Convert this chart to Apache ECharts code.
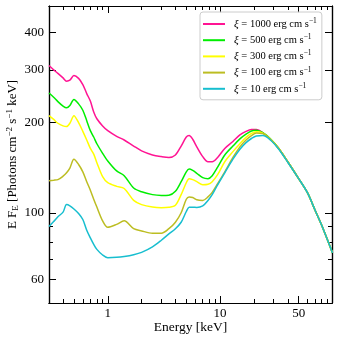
<!DOCTYPE html>
<html><head><meta charset="utf-8">
<script src="https://cdn.jsdelivr.net/npm/echarts@6/dist/echarts.min.js"></script>
<style>html,body{margin:0;padding:0;background:#fff}#c{width:342px;height:342px}</style>
</head><body><div id="c"></div>
<script>
const energy = [0.3,0.33,0.36,0.4,0.43,0.46,0.5,0.55,0.6,0.65,0.7,0.75,0.8,0.9,1.0,1.2,1.4,1.7,2.0,2.5,3.0,3.5,4.0,4.5,5.0,5.3,5.7,6.2,7.0,7.8,8.5,9.5,11,13,15,17,19,21,24,28,33,40,50,60,70,80,100];
const xi1000 = [310,300,292,282,275,277,287,281,268,250,236,217,206,195,188,180,175,167,161,156,154,153,156,167,179,181,176,166,154,148,148,153,164,173,182,187,189.5,189.5,185,176,164.5,148,130,116.5,102,91,73.5];
const xi500  = [251,243,235,227,224,228,239,231,220,203,188,179,170,158,149,138,133,121,117.5,115,114.3,114.5,118,127,137,140,138.5,135.5,131,130,133,142,156,167,176.5,183,187.5,188.5,185,176.5,164.5,148,130,116.5,102,91,73.5];
const xi300  = [211,205,199,195,194,199,211,200,187,175,164,157,147,132,126,122.5,120.5,110,106.5,104.5,104,104.3,106,115,126,130,129,127,124,124.5,127,134,148,160,170,178.5,184,186.5,184.5,176,164.5,148,130,116.5,102,91,73.5];
const xi100  = [128,128.5,129,132.5,136,141,151,145,137,127,119,111,104.5,94,89.5,91.5,94,88.5,87,85.5,85.5,88.5,93,100,111,113,112.5,110.5,110,113,117,125,137,153,166,175,181,184.5,184,176,164.5,148,130,116.5,102,91,73.5];
const xi10   = [90,93.5,97,100.5,106.5,105.5,103,99.5,95,87.5,82.5,78.5,75.5,72.3,70.8,71,71.5,72.5,73.8,77,81,85,88.5,93,101,104.4,104.4,104.2,105.5,110,115,124,136,151,163,171.5,177,180.5,181,175,163.5,147.5,130,116.5,102,91,73.5];
const seriesNames = ['1000','500','300','100','10'];
const seriesColors = ['#ff1493','#00ee00','#ffff00','#bcbd22','#17becf'];
const xMajor = [1,10,50];
const xMinor = [0.3,0.4,0.5,0.6,0.7,0.8,0.9,2,3,4,5,6,7,8,9,20,30,40,60,70,80,90];
const yMajor = [60,100,200,300,400];
const yMinor = [70,80,90];
const xRange = [0.3, 99];
const yRange = [50, 490];

const FONT = 'Liberation Serif';
const chart = echarts.init(document.getElementById('c'), null, {renderer:'canvas'});
const allSeries = [xi1000, xi500, xi300, xi100, xi10];

function xAx(pos, major, show) {
  return {
    type:'log', logBase:10, min:xRange[0], max:xRange[1], position:pos,
    axisLine:{show:true, onZero:false, lineStyle:{color:'#000', width:1.2}},
    axisTick:{show:true, inside:true, length: major?7:4, customValues: major?xMajor:xMinor, lineStyle:{color:'#000', width:1}},
    axisLabel:{show:show, customValues:xMajor, color:'#000', fontFamily:FONT, fontSize:13, margin:4},
    splitLine:{show:false}, minorTick:{show:false},
    name: show ? 'Energy [keV]' : '', nameLocation:'middle', nameGap:17, nameMoveOverlap:false,
    nameTextStyle:{color:'#000', fontFamily:FONT, fontSize:13.5}
  };
}
function yAx(pos, major, show) {
  return {
    type:'log', logBase:10, min:yRange[0], max:yRange[1], position:pos,
    axisLine:{show:true, onZero:false, lineStyle:{color:'#000', width:1.2}},
    axisTick:{show:true, inside:true, length: major?7:4, customValues: major?yMajor:yMinor, lineStyle:{color:'#000', width:1}},
    axisLabel:{show:show, customValues:yMajor, color:'#000', fontFamily:FONT, fontSize:13, margin:5},
    splitLine:{show:false}, minorTick:{show:false},
    name: show ? 'E F{sub|E} [Photons cm{sup|−2} s{sup|−1} keV]' : '', nameLocation:'middle', nameGap:29, nameMoveOverlap:false,
    nameTextStyle:{color:'#000', fontFamily:FONT, fontSize:13,
      rich:{sub:{fontSize:9, fontFamily:FONT, verticalAlign:'bottom', padding:[6,0,0,0]},
            sup:{fontSize:9, fontFamily:FONT, verticalAlign:'top', padding:[0,0,6,0]}}}
  };
}

chart.setOption({
  animation:false,
  backgroundColor:'#fff',
  grid:{left:49, right:10, top:6, bottom:39, containLabel:false, outerBoundsMode:'none'},
  xAxis:[xAx('bottom',true,true), xAx('bottom',false,false), xAx('top',true,false), xAx('top',false,false)],
  yAxis:[yAx('left',true,true), yAx('left',false,false), yAx('right',true,false), yAx('right',false,false)],
  legend:{
    orient:'vertical', left:200, top:12, padding:[5,5,4,3],
    itemWidth:22, itemHeight:2, itemGap:2.2, icon:'rect',
    borderColor:'#cccccc', borderWidth:1, borderRadius:3, backgroundColor:'rgba(255,255,255,0.85)',
    data: seriesNames.map(n => ({name:n})),
    formatter: n => '{i|ξ} = ' + n + ' erg cm s{s|−1}',
    textStyle:{color:'#000', fontFamily:FONT, fontSize:10.5, lineHeight:14, padding:[0,0,0,4],
      rich:{i:{fontStyle:'italic', fontFamily:FONT, fontSize:11},
            s:{fontSize:7.5, fontFamily:FONT, verticalAlign:'top', padding:[0,0,5,0]}}}
  },
  series: allSeries.map((arr,i) => ({
    name: seriesNames[i], type:'line', xAxisIndex:0, yAxisIndex:0,
    data: energy.map((e,j) => [e, arr[j]]),
    smooth:0.3, symbol:'none', clip:true,
    lineStyle:{color:seriesColors[i], width:1.5},
    itemStyle:{color:seriesColors[i]}
  }))
});
</script></body></html>
